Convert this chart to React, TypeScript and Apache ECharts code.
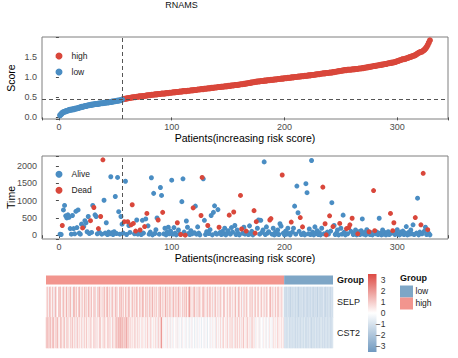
import React, { useEffect, useRef } from "react";
import * as echarts from "echarts";

const FONT = "'Liberation Sans', Arial, sans-serif";

const chartTitle = "RNAMS";

// risk score per patient, sorted increasing (patients 1..329)
const riskScore = [
  0.05, 0.08, 0.11, 0.13, 0.14, 0.15, 0.16, 0.17, 0.18, 0.19,
  0.19, 0.2, 0.2, 0.21, 0.22, 0.22, 0.23, 0.24, 0.25, 0.26,
  0.26, 0.27, 0.28, 0.28, 0.29, 0.3, 0.3, 0.31, 0.31, 0.32,
  0.32, 0.33, 0.33, 0.33, 0.34, 0.34, 0.35, 0.35, 0.35, 0.36,
  0.36, 0.37, 0.37, 0.37, 0.38, 0.38, 0.39, 0.39, 0.4, 0.4,
  0.41, 0.41, 0.42, 0.42, 0.43, 0.44, 0.45, 0.46, 0.46, 0.47,
  0.47, 0.48, 0.48, 0.49, 0.49, 0.5, 0.5, 0.5, 0.51, 0.51,
  0.52, 0.52, 0.52, 0.53, 0.53, 0.53, 0.54, 0.54, 0.55, 0.55,
  0.55, 0.56, 0.56, 0.56, 0.57, 0.57, 0.57, 0.58, 0.58, 0.58,
  0.59, 0.59, 0.59, 0.59, 0.6, 0.6, 0.6, 0.61, 0.61, 0.61,
  0.62, 0.62, 0.62, 0.63, 0.63, 0.63, 0.64, 0.64, 0.64, 0.65,
  0.65, 0.65, 0.65, 0.66, 0.66, 0.66, 0.67, 0.67, 0.67, 0.68,
  0.68, 0.68, 0.69, 0.69, 0.69, 0.7, 0.7, 0.7, 0.71, 0.71,
  0.71, 0.72, 0.72, 0.72, 0.73, 0.73, 0.73, 0.74, 0.74, 0.74,
  0.75, 0.75, 0.75, 0.76, 0.76, 0.76, 0.77, 0.77, 0.77, 0.78,
  0.78, 0.78, 0.79, 0.79, 0.79, 0.8, 0.8, 0.8, 0.81, 0.81,
  0.82, 0.82, 0.82, 0.83, 0.83, 0.84, 0.84, 0.85, 0.85, 0.86,
  0.86, 0.87, 0.87, 0.88, 0.88, 0.89, 0.89, 0.89, 0.9, 0.9,
  0.9, 0.91, 0.91, 0.91, 0.92, 0.92, 0.92, 0.93, 0.93, 0.93,
  0.94, 0.94, 0.94, 0.95, 0.95, 0.95, 0.96, 0.96, 0.96, 0.97,
  0.97, 0.97, 0.98, 0.98, 0.98, 0.99, 0.99, 0.99, 1.0, 1.0,
  1.0, 1.01, 1.01, 1.01, 1.02, 1.02, 1.02, 1.03, 1.03, 1.03,
  1.04, 1.04, 1.04, 1.05, 1.05, 1.05, 1.06, 1.06, 1.07, 1.07,
  1.07, 1.08, 1.08, 1.09, 1.09, 1.09, 1.1, 1.1, 1.1, 1.11,
  1.11, 1.11, 1.12, 1.12, 1.13, 1.13, 1.14, 1.14, 1.15, 1.15,
  1.16, 1.16, 1.17, 1.17, 1.17, 1.18, 1.18, 1.18, 1.18, 1.19,
  1.19, 1.19, 1.2, 1.2, 1.2, 1.21, 1.21, 1.21, 1.22, 1.22,
  1.23, 1.23, 1.24, 1.24, 1.25, 1.25, 1.26, 1.26, 1.27, 1.27,
  1.28, 1.28, 1.29, 1.29, 1.3, 1.3, 1.31, 1.31, 1.32, 1.32,
  1.33, 1.34, 1.34, 1.35, 1.35, 1.36, 1.36, 1.37, 1.38, 1.39,
  1.4, 1.41, 1.42, 1.43, 1.44, 1.44, 1.45, 1.46, 1.47, 1.48,
  1.49, 1.5, 1.51, 1.52, 1.53, 1.54, 1.56, 1.58, 1.6, 1.61,
  1.62, 1.63, 1.65, 1.67, 1.7, 1.74, 1.79, 1.85, 1.91,
];

const riskCutoff = 0.445;

// survival time per patient (same order as riskScore)
const survivalTime = [
  30, 20, 280, 730, 860, 560, 500, 590, 520, 190,
  30, 570, 190, 40, 690, 220, 730, 60, 30, 320,
  210, 250, 420, 360, 100, 540, 50, 420, 80, 860,
  800, 590, 540, 40, 190, 80, 540, 30, 2180, 1010,
  60, 360, 20, 90, 40, 1690, 70, 20, 100, 1120,
  50, 1670, 680, 30, 540, 320, 60, 390, 1560, 20,
  390, 280, 80, 300, 880, 340, 40, 120, 440, 30,
  90, 150, 20, 430, 60, 250, 470, 630, 270, 30,
  90, 1660, 10, 1210, 50, 160, 500, 440, 30, 1380,
  1150, 660, 40, 200, 10, 90, 230, 40, 120, 1590,
  30, 220, 60, 10, 360, 150, 40, 20, 970, 1630,
  90, 0, 410, 230, 50, 20, 130, 40, 790, 70,
  840, 30, 240, 60, 10, 570, 1670, 1630, 430, 20,
  100, 280, 50, 160, 570, 10, 660, 850, 60, 30,
  740, 230, 80, 20, 110, 40, 200, 10, 60, 130,
  580, 30, 220, 90, 670, 280, 20, 150, 50, 10,
  1150, 180, 60, 230, 30, 120, 80, 20, 270, 40,
  110, 10, 710, 60, 390, 200, 440, 30, 430, 80,
  150, 2120, 20, 240, 60, 100, 440, 480, 30, 200,
  10, 90, 40, 150, 20, 330, 260, 1740, 60, 10,
  120, 30, 200, 50, 10, 380, 90, 200, 840, 30,
  1420, 650, 110, 510, 20, 240, 60, 10, 1490, 1230,
  40, 180, 20, 2160, 90, 10, 240, 50, 130, 20,
  70, 10, 200, 1390, 40, 330, 10, 90, 30, 560,
  120, 940, 250, 280, 20, 60, 150, 10, 340, 200,
  30, 580, 90, 10, 190, 40, 220, 300, 110, 490,
  20, 60, 150, 10, 40, 100, 20, 130, 470, 30,
  80, 10, 160, 40, 100, 20, 70, 10, 1290, 130,
  40, 90, 20, 490, 60, 10, 150, 30, 80, 10,
  40, 100, 20, 630, 60, 130, 360, 20, 80, 160,
  30, 10, 90, 40, 120, 20, 60, 250, 10, 80,
  30, 150, 40, 300, 20, 510, 60, 1070, 10, 90,
  300, 40, 1790, 120, 230, 20, 160, 50, 10,
];

// 0 = Alive, 1 = Dead
const survivalStatus = [
  0, 0, 1, 0, 0, 0, 0, 0, 0, 0,
  0, 0, 0, 0, 0, 0, 0, 0, 0, 0,
  1, 0, 0, 0, 0, 0, 0, 1, 0, 0,
  1, 0, 0, 0, 1, 0, 1, 0, 1, 0,
  0, 0, 0, 0, 0, 0, 0, 0, 0, 0,
  0, 0, 0, 0, 0, 0, 0, 1, 0, 0,
  1, 0, 0, 1, 1, 1, 0, 1, 0, 0,
  0, 1, 0, 0, 0, 1, 0, 1, 0, 0,
  0, 0, 0, 0, 0, 0, 0, 1, 0, 0,
  0, 1, 0, 0, 0, 0, 0, 0, 0, 0,
  0, 0, 0, 0, 1, 0, 0, 1, 0, 0,
  0, 1, 0, 0, 0, 0, 0, 0, 1, 0,
  0, 0, 0, 0, 0, 1, 1, 0, 0, 0,
  0, 1, 0, 0, 0, 0, 0, 0, 0, 0,
  0, 1, 0, 0, 0, 0, 0, 0, 0, 0,
  1, 0, 0, 0, 1, 0, 0, 0, 0, 0,
  1, 1, 0, 0, 0, 1, 0, 0, 0, 0,
  0, 0, 1, 1, 1, 0, 0, 0, 0, 0,
  0, 0, 0, 0, 0, 0, 1, 1, 0, 0,
  0, 0, 0, 0, 0, 0, 0, 1, 0, 0,
  0, 0, 0, 0, 0, 1, 0, 0, 0, 0,
  0, 0, 0, 1, 0, 1, 0, 0, 0, 0,
  0, 0, 0, 0, 0, 0, 0, 0, 0, 0,
  0, 0, 0, 1, 0, 1, 1, 0, 0, 1,
  0, 0, 1, 0, 0, 0, 0, 0, 1, 0,
  0, 0, 0, 0, 1, 0, 1, 1, 0, 1,
  0, 0, 0, 0, 1, 0, 0, 0, 0, 0,
  0, 0, 0, 0, 1, 0, 0, 0, 1, 1,
  0, 0, 0, 0, 0, 0, 0, 0, 0, 0,
  0, 0, 0, 1, 0, 1, 1, 0, 0, 0,
  0, 0, 0, 0, 0, 0, 0, 0, 0, 0,
  0, 0, 0, 0, 0, 1, 0, 0, 0, 0,
  1, 0, 1, 0, 0, 0, 1, 0, 0,
];

const statusNames = ["Alive", "Dead"];
const groupNames = ["low", "high"];
const geneNames = ["SELP", "CST2"];

// heatmap columns, displayed left to right by decreasing risk
const selpExpr = [
  0.2, 1.2, 0.8, -0.2, 1.5, 0.9, 0.1, 1.3, 0.6, -0.3,
  0.9, 1.6, 0.4, 0.0, 1.1, 0.7, 1.8, 0.3, -0.2, 1.0,
  1.4, 0.5, 0.2, 1.7, 0.8, -0.1, 1.2, 0.6, 1.5, 0.3,
  -0.3, 1.0, 1.9, 0.4, 0.7, 1.3, 0.1, 0.9, 1.6, 0.5,
  -0.2, 1.2, 0.8, 0.2, 1.4, 0.6, 1.1, -0.1, 0.9, 1.7,
  0.3, 0.7, 1.3, 0.0, 1.0, 0.5, 1.5, 0.2, -0.3, 1.1,
  0.8, 1.6, 0.4, 0.9, -0.1, 1.2, 0.6, 1.4, 0.3, 0.8,
  1.9, 0.2, 0.7, 1.1, -0.2, 0.9, 1.3, 0.5, 0.1, 1.0,
  1.5, 0.4, 0.8, -0.1, 1.2, 0.6, 1.7, 0.3, 0.9, 1.1,
  0.0, 1.4, 0.7, 0.3, 1.0, 1.6, 0.5, -0.2, 0.8, 1.3,
  0.4, 1.1, 0.2, 0.9, 1.5, 0.6, -0.1, 1.2, 0.8, 0.3,
  1.0, 1.8, 0.5, 0.1, 1.3, 0.7, 1.1, -0.2, 0.9, 1.4,
  0.3, 0.8, 1.6, 0.4, 1.0, 0.2, 1.3, 0.6, -0.1, 1.1,
  0.9, 1.5, 0.3, 0.7, 1.2, 0.0, 0.8, 1.7, 0.5, 1.0,
  0.2, 1.3, 0.6, 1.1, -0.2, 0.9, 1.4, 0.4, 0.8, 1.2,
  0.1, 1.0, 1.6, 0.5, 0.7, -0.1, 1.3, 0.3, 0.9, 1.1,
  0.6, 1.5, 0.2, 0.8, 2.6, 0.4, 1.2, 0.0, 0.7, 1.0,
  1.4, 0.3, 0.9, -0.2, 1.1, 0.6, 1.3, 0.5, 0.2, 0.8,
  1.6, 0.4, 1.0, -0.1, 0.7, 1.2, 0.3, 0.9, 1.4, 0.1,
  0.6, 1.1, -0.3, 0.8, 1.3, 0.2, 0.5, 1.0, -0.2, 0.7,
  1.2, 0.4, 0.0, 0.9, 1.5, 0.3, -0.1, 0.6, 1.1, 0.2,
  0.8, 1.3, -0.2, 0.5, 1.0, 0.1, 0.7, 1.4, 0.3, -0.1,
  0.9, 1.6, 0.4, 0.2, 1.1, -0.3, 0.6, 1.2, 0.0, 0.8,
  1.3, 0.3, -0.1, 0.7, 1.0, 0.2, 1.5, 0.4, -0.2, 0.9,
  1.1, 0.1, 0.6, 1.4, 0.3, -0.1, 0.8, 1.2, 0.2, 0.5,
  1.0, -0.2, 0.7, 1.3, 0.4, 0.0, 0.9, 1.6, 0.3, 0.6,
  1.1, -0.1, 0.5, 1.2, 0.2, 0.8, 1.4, 0.1, 0.7, 0.3,
  1.0, 0.4, -0.2,
  -1.2, -1.0, -1.4, -1.1, -0.9, -1.3, -1.2, -1.5, -1.0, -1.1,
  -1.3, -0.8, -1.2, -1.4, -1.0, -1.1, -1.6, -1.2, -0.9, -1.3,
  -1.1, -1.0, -1.4, -1.2, -0.8, -1.3, -1.1, -1.5, -1.0, -1.2,
  -1.3, -0.9, -1.1, -1.4, -1.2, -1.0, -1.3, -1.1, -1.6, -0.9,
  -1.2, -1.0, -1.4, -1.1, -1.3, -0.8, -1.2, -1.5, -1.0, -1.1,
  -1.3, -0.9, -1.2, -1.4, -1.0, -1.1,
];

const cst2Expr = [
  1.2, 0.8, 1.5, 0.6, 1.0, 1.3, 0.4, 0.9, 1.6, 0.7,
  0.2, 1.1, 0.8, 1.4, 0.5, 0.0, 1.0, 1.3, 0.6, 0.3,
  0.9, 1.2, -0.2, 0.7, 1.1, 0.4, 0.8, -0.1, 1.0, 0.5,
  1.3, 0.2, 0.6, 0.9, -0.3, 0.7, 1.1, 0.3, 0.8, 0.1,
  0.6, 1.0, -0.2, 0.5, 0.9, 0.2, 1.2, 0.4, -0.1, 0.8,
  0.3, 1.0, 0.6, 0.0, 0.9, 0.4, 1.1, -0.2, 0.7, 0.5,
  0.2, 0.9, 1.2, 0.3, -0.1, 0.8, 0.6, 1.0, 0.4, 0.1,
  0.7, 1.1, 0.3, 0.9, 0.5, -0.2, 1.0, 0.6, 0.2, 0.8,
  1.0, 1.3, 0.8, 1.5, 1.1, 1.6, 0.9, 1.4, 1.2, 0.7,
  1.3, 1.0, 1.7, 0.8, 1.1, 0.6, 0.4, 0.9, 0.3, 0.6,
  0.2, 0.7, 1.0, -0.1, 0.5, 0.9, 0.3, 0.6, -0.2, 0.4,
  0.8, 0.1, 0.5, -0.3, 0.7, 0.2, 1.0, 0.4, -0.1, 0.6,
  0.9, 0.3, -0.2, 0.5, 0.1, 0.8, 0.4, -0.4, 0.6, 1.0,
  0.3, 0.7, 2.4, 0.5, -0.2, 0.4, 0.1, -0.5, 0.3, 0.6,
  -0.3, 0.2, 0.5, -0.6, 0.1, 0.4, -0.4, 0.0, 0.3, -0.2,
  0.5, -0.5, 0.2, -0.3, 0.1, -0.6, 0.4, -0.2, 0.0, -0.4,
  0.3, -0.5, -0.1, 0.2, -0.7, 0.1, -0.3, 0.4, -0.4, 0.0,
  -0.6, 0.2, -0.2, -0.5, 0.3, -0.1, -0.4, 0.1, -0.6, 0.0,
  -0.3, 0.3, -0.5, -0.1, 0.2, -0.7, 0.0, -0.3, 0.4, -0.4,
  -0.1, 0.5, -0.2, 0.2, -0.5, 0.8, 0.1, -0.3, 0.6, 0.0,
  0.9, -0.2, 0.4, 1.1, 0.2, -0.1, 0.7, 0.3, 1.0, -0.2,
  0.5, 0.8, 0.1, 1.2, 0.4, -0.3, 0.6, 0.9, 0.2, 1.3,
  0.0, 0.5, 1.0, -0.2, 0.7, 0.3, 1.4, 0.1, 0.6, -0.1,
  0.8, 1.1, 0.2, 0.5, -0.3, 0.9, 0.4, 1.2, 0.0, 0.6,
  -0.4, 0.3, 0.1, -0.2, 0.5, -0.5, 0.2, 0.0, -0.3, 0.4,
  -0.1, 0.2, -0.6, 0.3, 0.0, -0.4, 0.5, -0.2, 0.1, -0.5,
  0.3, 0.8, 0.1, 0.5, -0.2, 0.9, 0.3, 0.6, 0.0, 0.4,
  0.7, 0.2, 0.5,
  -1.0, -0.8, -1.2, -0.9, -1.1, -0.7, -1.3, -1.0, -0.9, -1.2,
  -0.8, -1.1, -1.0, -1.4, -0.9, -1.2, -1.0, -0.8, -1.3, -1.1,
  -0.9, -1.0, -1.2, -0.7, -1.1, -1.3, -0.9, -1.0, -1.2, -0.8,
  -1.1, -1.4, -1.0, -0.9, -1.2, -1.1, -0.8, -1.3, -1.0, -0.9,
  -1.2, -1.1, -0.7, -1.0, -1.3, -0.9, -1.2, -1.0, -0.8, -1.1,
  -1.2, -0.9, -1.0, -1.3, -1.1, -0.9,
];

const xTicks = [0, 100, 200, 300];
const scoreTicks = [0, 0.5, 1, 1.5];
const timeTicks = [0, 500, 1000, 1500, 2000];
const colorbarTicks = [-3, -2, -1, 0, 1, 2, 3];

const RED = "#D9473B";
const BLUE = "#4A8DC3";
const GROUP_LOW = "#7EA6C6";
const GROUP_HIGH = "#F2958E";
const HM_LOW = "#7099C0";
const HM_HIGH = "#DD4A44";

function buildOption() {
  const n = riskScore.length;
  const lowPts: number[][] = [];
  const highPts: number[][] = [];
  riskScore.forEach((s, i) => (s > riskCutoff ? highPts : lowPts).push([i + 1, s]));
  const alivePts: number[][] = [];
  const deadPts: number[][] = [];
  survivalTime.forEach((t, i) => (survivalStatus[i] === 1 ? deadPts : alivePts).push([i + 1, t]));
  const lowCount = lowPts.length;
  const highCount = highPts.length;

  const hmData: number[][] = [];
  selpExpr.forEach((v, j) => hmData.push([j, 1, v]));
  cst2Expr.forEach((v, j) => hmData.push([j, 0, v]));
  const colNames = selpExpr.map((_, j) => String(j));

  const tickLabel = { fontSize: 9, color: "#4d4d4d", fontFamily: FONT };
  const axisTick = { show: true, length: 3, lineStyle: { color: "#4d4d4d", width: 1 } };
  const nameStyle = { fontSize: 10.5, color: "#000", fontFamily: FONT };
  const vline = {
    silent: true,
    symbol: "none",
    label: { show: false },
    lineStyle: { type: [4, 3], color: "#555", width: 1 },
  };
  const minus = (v: number) => String(v).replace("-", "\u2212");
  const legendCommon = {
    orient: "vertical", left: 55.5, padding: 0,
    icon: "circle", itemWidth: 7, itemHeight: 7, itemGap: 5, selectedMode: false,
    textStyle: { fontSize: 8.5, color: "#222", fontFamily: FONT, padding: [0, 0, 0, 4], lineHeight: 11 },
  };
  const box = { show: true, borderColor: "#7f7f7f", borderWidth: 1, outerBoundsMode: "none", containLabel: false };
  const plain = { outerBoundsMode: "none", containLabel: false };

  return {
    animation: false,
    textStyle: { fontFamily: FONT },
    grid: [
      { ...box, left: 42, top: 37, width: 406, height: 82 },
      { ...box, left: 42, top: 156, width: 406, height: 83 },
      { ...plain, left: 46, top: 275.5, width: 287, height: 9 },
      { ...plain, left: 46, top: 287, width: 287, height: 61 },
      { ...plain, left: 368, top: 274, width: 8.5, height: 78 },
    ],
    xAxis: [
      {
        gridIndex: 0, type: "value", min: -15, max: 345,
        axisLine: { show: false }, splitLine: { show: false },
        axisTick,
        axisLabel: { ...tickLabel, margin: 3, customValues: xTicks },
        name: "Patients(increasing risk score)", nameLocation: "middle", nameGap: 13,
        nameMoveOverlap: false, nameTextStyle: nameStyle,
      },
      {
        gridIndex: 1, type: "value", min: -15, max: 345,
        axisLine: { show: false }, splitLine: { show: false },
        axisTick,
        axisLabel: { ...tickLabel, margin: 3, customValues: xTicks },
        name: "Patients(increasing risk score)", nameLocation: "middle", nameGap: 13,
        nameMoveOverlap: false, nameTextStyle: nameStyle,
      },
      { gridIndex: 2, type: "value", min: 0, max: n, show: false },
      { gridIndex: 3, type: "category", data: colNames, show: false },
      { gridIndex: 4, type: "value", min: 0, max: 1, show: false },
    ],
    yAxis: [
      {
        gridIndex: 0, type: "value", min: -0.04, max: 1.99,
        axisLine: { show: false }, splitLine: { show: false },
        axisTick,
        axisLabel: { ...tickLabel, margin: 5, customValues: scoreTicks, formatter: (v: number) => v.toFixed(1) },
        name: "Score", nameLocation: "middle", nameGap: 26, nameMoveOverlap: false, nameTextStyle: nameStyle,
      },
      {
        gridIndex: 1, type: "value", min: -110, max: 2290,
        axisLine: { show: false }, splitLine: { show: false },
        axisTick,
        axisLabel: { ...tickLabel, margin: 5, customValues: timeTicks, formatter: (v: number) => String(v) },
        name: "Time", nameLocation: "middle", nameGap: 26, nameMoveOverlap: false, nameTextStyle: nameStyle,
      },
      {
        gridIndex: 2, type: "category", data: ["Group"], position: "right",
        axisLine: { show: false }, axisTick: { show: false },
        axisLabel: { fontSize: 9, fontWeight: "bold", color: "#111", margin: 4, fontFamily: FONT },
      },
      {
        gridIndex: 3, type: "category", data: [...geneNames].reverse(), position: "right",
        axisLine: { show: false }, axisTick: { show: false },
        axisLabel: { fontSize: 9, color: "#222", margin: 4, fontFamily: FONT },
      },
      {
        gridIndex: 4, type: "value", min: -3.5, max: 3.5, position: "right",
        axisLine: { show: false }, axisTick: { show: false }, splitLine: { show: false },
        axisLabel: {
          fontSize: 8.5, color: "#333", fontFamily: FONT, align: "right", margin: 9,
          customValues: colorbarTicks, formatter: minus,
        },
      },
    ],
    legend: [
      { ...legendCommon, data: [groupNames[1], groupNames[0]], top: 50.5 },
      { ...legendCommon, data: statusNames, top: 168.8 },
    ],
    visualMap: {
      type: "continuous", show: false, min: -3.5, max: 3.5, seriesIndex: 6,
      inRange: { color: [HM_LOW, "#FFFFFF", HM_HIGH] },
    },
    series: [
      {
        name: groupNames[1], type: "scatter", xAxisIndex: 0, yAxisIndex: 0,
        data: highPts, symbolSize: 6, itemStyle: { color: RED, opacity: 1 },
      },
      {
        name: groupNames[0], type: "scatter", xAxisIndex: 0, yAxisIndex: 0,
        data: lowPts, symbolSize: 6, itemStyle: { color: BLUE, opacity: 1 },
        markLine: { ...vline, data: [{ yAxis: riskCutoff }, { xAxis: lowCount + 0.5 }] },
      },
      {
        name: statusNames[0], type: "scatter", xAxisIndex: 1, yAxisIndex: 1,
        data: alivePts, symbolSize: 5, itemStyle: { color: BLUE, opacity: 1 },
        markLine: { ...vline, data: [{ xAxis: lowCount + 0.5 }] },
      },
      {
        name: statusNames[1], type: "scatter", xAxisIndex: 1, yAxisIndex: 1,
        data: deadPts, symbolSize: 5, itemStyle: { color: RED, opacity: 1 },
      },
      {
        name: "group-high", type: "bar", xAxisIndex: 2, yAxisIndex: 2, stack: "grp",
        data: [highCount], barWidth: "100%", itemStyle: { color: GROUP_HIGH }, silent: true,
      },
      {
        name: "group-low", type: "bar", xAxisIndex: 2, yAxisIndex: 2, stack: "grp",
        data: [lowCount], barWidth: "100%", itemStyle: { color: GROUP_LOW }, silent: true,
      },
      {
        name: "expr", type: "heatmap", xAxisIndex: 3, yAxisIndex: 3,
        data: hmData, silent: true, emphasis: { disabled: true },
      },
      { type: "scatter", xAxisIndex: 4, yAxisIndex: 4, data: [], silent: true },
    ],
    graphic: [
      {
        type: "text", x: 181.5, y: 0, silent: true,
        style: { text: chartTitle, fontSize: 9, fill: "#111", fontFamily: FONT, textAlign: "center" },
      },
      {
        type: "rect", x: 368, y: 274, silent: true,
        shape: { x: 0, y: 0, width: 8.5, height: 78 },
        style: {
          fill: {
            type: "linear", x: 0, y: 0, x2: 0, y2: 1,
            colorStops: [
              { offset: 0, color: HM_HIGH },
              { offset: 0.5, color: "#FFFFFF" },
              { offset: 1, color: HM_LOW },
            ],
          },
        },
      },
      {
        type: "text", x: 400, y: 273, silent: true,
        style: { text: "Group", fontSize: 9, fontWeight: "bold", fill: "#111", fontFamily: FONT },
      },
      {
        type: "rect", x: 400, y: 285.5, silent: true,
        shape: { x: 0, y: 0, width: 13, height: 12 }, style: { fill: GROUP_LOW },
      },
      {
        type: "rect", x: 400, y: 297.5, silent: true,
        shape: { x: 0, y: 0, width: 13, height: 12 }, style: { fill: GROUP_HIGH },
      },
      {
        type: "text", x: 415.5, y: 286.5, silent: true,
        style: { text: groupNames[0], fontSize: 8.5, fill: "#222", fontFamily: FONT },
      },
      {
        type: "text", x: 415.5, y: 298.5, silent: true,
        style: { text: groupNames[1], fontSize: 8.5, fill: "#222", fontFamily: FONT },
      },
    ],
  };
}

export default function App() {
  const ref = useRef<HTMLDivElement>(null);
  useEffect(() => {
    document.body.style.margin = "0";
    const chart = echarts.init(ref.current!, undefined, { renderer: "svg" });
    chart.setOption(buildOption() as any);
    return () => chart.dispose();
  }, []);
  return <div ref={ref} style={{ width: 458, height: 358, background: "#fff" }} />;
}
